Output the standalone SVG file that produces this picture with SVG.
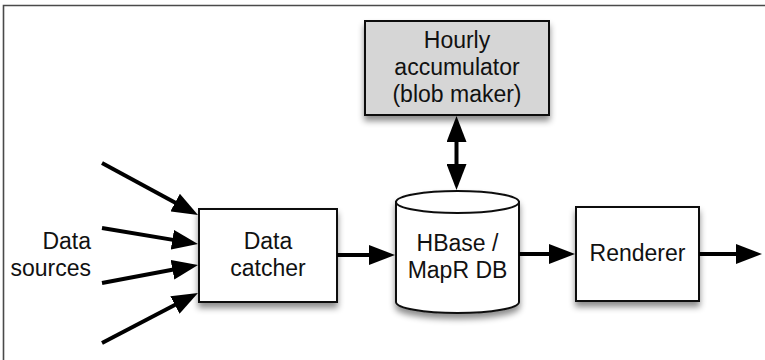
<svg xmlns="http://www.w3.org/2000/svg" width="765" height="360" viewBox="0 0 765 360">
  <style>
    .box { stroke: #111; stroke-width: 2; }
    .lbl { font-family: "Liberation Sans", Arial, sans-serif; font-size: 23px; fill: #111; text-anchor: middle; }
    .arr { stroke: #000; stroke-width: 4; fill: none; marker-end: url(#head); }
    .frame { stroke: #4a4a4a; stroke-width: 1.6; fill: none; }
  </style>
  <defs>
    <filter id="shadow" x="-20%" y="-20%" width="140%" height="150%">
      <feDropShadow dx="0" dy="5" stdDeviation="3" flood-color="#000" flood-opacity="0.45"/>
    </filter>
    <marker id="head" markerUnits="userSpaceOnUse" markerWidth="26" markerHeight="20" viewBox="0 0 26 20" refX="16" refY="10" orient="auto-start-reverse">
      <path d="M0,0 L26,10 L0,20 Z" fill="#000"/>
    </marker>
  </defs>
  <rect width="765" height="360" fill="#fff"/>
  <path class="frame" d="M3.5,360 L3.5,5.5 L765,5.5"/>

  <g id="accumulator">
    <rect class="box" x="365" y="21" width="184" height="94" fill="#d6d6d6" filter="url(#shadow)"/>
    <text class="lbl" x="457" y="48">Hourly</text>
    <text class="lbl" x="457" y="75">accumulator</text>
    <text class="lbl" x="457" y="102">(blob maker)</text>
  </g>

  <g id="data-sources">
    <text class="lbl" x="91" y="249" style="text-anchor:end">Data</text>
    <text class="lbl" x="91" y="276" style="text-anchor:end">sources</text>
  </g>

  <g id="data-catcher">
    <rect class="box" x="199" y="209" width="138" height="93" fill="#fff" filter="url(#shadow)"/>
    <text class="lbl" x="268" y="249">Data</text>
    <text class="lbl" x="268" y="276">catcher</text>
  </g>

  <g id="hbase">
    <g filter="url(#shadow)">
      <path class="box" d="M396,202 L396,302 A61.5,11 0 0 0 519,302 L519,202 Z" fill="#fff"/>
      <ellipse class="box" cx="457.5" cy="202" rx="61.5" ry="11" fill="#fff"/>
    </g>
    <text class="lbl" x="457.5" y="251">HBase /</text>
    <text class="lbl" x="457.5" y="278">MapR DB</text>
  </g>

  <g id="renderer">
    <rect class="box" x="576" y="207" width="123" height="94" fill="#fff" filter="url(#shadow)"/>
    <text class="lbl" x="637.5" y="261">Renderer</text>
  </g>

  <g id="connectors">
    <line class="arr" x1="102" y1="163" x2="189.2" y2="210.2"/>
    <line class="arr" x1="102" y1="228" x2="188.1" y2="242.4"/>
    <line class="arr" x1="102" y1="283" x2="188.2" y2="266.8"/>
    <line class="arr" x1="102" y1="343" x2="189.1" y2="297.6"/>
    <line class="arr" x1="337" y1="255" x2="385" y2="255"/>
    <line class="arr" x1="519" y1="254" x2="565" y2="254"/>
    <line class="arr" x1="699" y1="254" x2="752" y2="254"/>
    <line class="arr" x1="456.5" y1="126" x2="456.5" y2="180" style="marker-start:url(#head)"/>
  </g>
</svg>
